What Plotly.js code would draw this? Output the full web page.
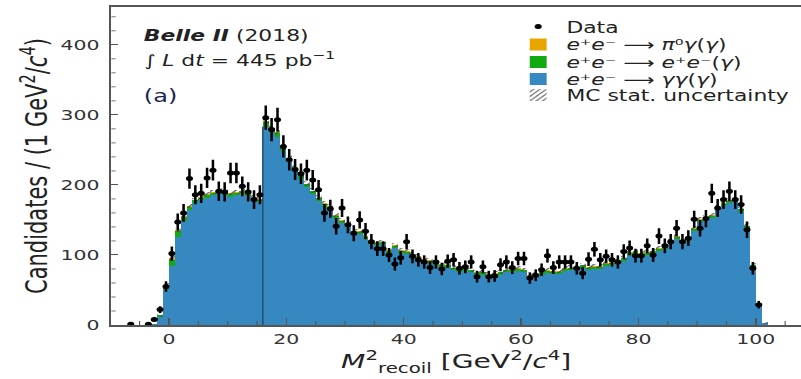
<!DOCTYPE html>
<html>
<head>
<meta charset="utf-8">
<script src="https://cdn.plot.ly/plotly-3.0.1.min.js"></script>
<style>
html,body{margin:0;padding:0;background:#fff;}
#wrap{width:801px;height:379px;overflow:hidden;position:relative;}
#chart{width:568px;height:379px;transform:scaleX(1.41021);transform-origin:0 0;}
</style>
</head>
<body>
<div id="wrap"><div id="chart"></div></div>
<script>
// Histogram binning: 1 GeV^2/c^4 bins, first bin starts at -10
const binStart = -10;
// MC components per bin (bins -10 .. 102)
const blueGG = [0,0,0,0,0,0,0,1,12,51,
  84,125,148,164,174,178,182,185,188,186,
  183,185,187,184,178,175,283,274,269,249,
  233,220,209,197,187,177,169,165,152,145,
  140,130,130,123,115,114,115,103,110,103,
  101,97,94,90,89,86,83,82,78,76,
  77,75,71,72,69,70,72,75,76,77,
  75,67,68,72,74,73,73,77,78,78,
  82,79,80,80,84,86,87,92,100,102,
  99,100,102,106,109,116,123,116,120,134,
  147,150,153,164,170,174,175,162,138,82,
  27,3,0];
const greenEE = [0,0,0,0,0,0,0,0,2,5,
  9,9,6,5,4,4,4,4,4,4,
  4,4,4,4,4,4,7,6,5,4,
  4,4,4,4,4,4,4,4,4,4,
  4,3,3,3,3,3,3,3,3,3,
  3,3,3,3,3,3,3,3,3,3,
  3,3,3,3,3,3,3,3,3,3,
  3,3,3,3,3,3,3,3,3,3,
  3,3,3,3,3,3,3,3,3,3,
  3,3,3,3,3,3,3,3,3,3,
  3,3,3,3,3,3,3,3,3,3,
  3,0,0];
const orangePi0 = [0,0,0,0,0,0,0,0,0,1,
  2,2,1,1,1,1,1,1,1,1,
  1,1,1,1,1,1,1,1,1,1,
  1,1,1,1,1,1,1,1,1,1,
  1,1,1,1,1,1,1,1,1,1,
  1,1,1,1,1,1,1,1,1,1,
  1,1,1,1,1,1,1,1,1,1,
  1,1,1,1,1,1,1,1,1,1,
  1,1,1,1,1,1,1,1,1,1,
  1,1,1,1,1,1,1,1,1,1,
  1,1,1,1,1,1,1,1,1,1,
  0,0,0];
const mcStatErr = [0,0,0,0,0,0,0,1,2,3,
  3,3,3,3,3,3,3,3,3,3,
  3,3,3,3,3,3,4,4,4,4,
  4,4,4,4,4,3,3,3,3,3,
  3,3,3,3,3,3,3,3,3,3,
  3,3,3,3,3,3,3,3,3,3,
  3,3,3,3,3,3,3,3,3,3,
  3,3,3,3,3,3,3,3,3,3,
  3,3,3,3,3,3,3,3,3,3,
  3,3,3,3,3,3,3,3,3,3,
  3,3,3,3,3,3,3,3,3,3,
  2,1,0];
// Data points (bin centres and counts)
const dataX = [-6.5,-3.5,-2.5,-1.5,-0.5,0.5,1.5,2.5,3.5,4.5,
  5.5,6.5,7.5,8.5,9.5,10.5,11.5,12.5,13.5,14.5,
  15.5,16.5,17.5,18.5,19.5,20.5,21.5,22.5,23.5,24.5,
  25.5,26.5,27.5,28.5,29.5,30.5,31.5,32.5,33.5,34.5,
  35.5,36.5,37.5,38.5,39.5,40.5,41.5,42.5,43.5,44.5,
  45.5,46.5,47.5,48.5,49.5,50.5,51.5,52.5,53.5,54.5,
  55.5,56.5,57.5,58.5,59.5,60.5,61.5,62.5,63.5,64.5,
  65.5,66.5,67.5,68.5,69.5,70.5,71.5,72.5,73.5,74.5,
  75.5,76.5,77.5,78.5,79.5,80.5,81.5,82.5,83.5,84.5,
  85.5,86.5,87.5,88.5,89.5,90.5,91.5,92.5,93.5,94.5,
  95.5,96.5,97.5,98.5,99.5,100.5];
const dataY = [1,1,8,22,55,102,147,160,209,186,
  188,210,221,191,190,217,217,198,190,179,
  186,296,279,293,255,236,222,216,221,207,
  193,160,166,141,167,143,131,150,134,119,
  109,109,100,87,96,119,98,93,90,82,
  90,80,91,93,81,83,90,69,83,69,
  70,86,90,82,95,95,67,71,79,99,
  82,90,90,90,81,74,94,108,93,98,
  93,90,105,110,99,99,113,100,127,113,
  119,138,119,124,151,138,152,188,167,179,
  191,179,172,136,81,29];

// ---- build traces ----
const centers = blueGG.map((_, i) => binStart + 0.5 + i);
const cumGreen = blueGG.map((b, i) => b + greenEE[i]);
const cumTotal = cumGreen.map((g, i) => g + orangePi0[i]);
const errBase = cumTotal.map((t, i) => t - mcStatErr[i]);
const errHeight = mcStatErr.map(e => 2 * e);
const jumpIdx = 26; // bin starting at 16
const edgeX = binStart + jumpIdx;

const FONT = 'DejaVu Sans, Verdana, sans-serif';
const traces = [
  {type: 'bar', x: centers, y: cumTotal, width: 1, name: '<i>e</i>⁺<i>e</i>⁻ ⟶ <i>π</i>⁰<i>γ</i>(<i>γ</i>)',
   marker: {color: '#E8A600', line: {width: 0}}, legend: 'legend2', hoverinfo: 'skip'},
  {type: 'bar', x: centers, y: cumGreen, width: 1, name: '<i>e</i>⁺<i>e</i>⁻ ⟶ <i>e</i>⁺<i>e</i>⁻(<i>γ</i>)',
   marker: {color: '#11AA11', line: {width: 0}}, legend: 'legend3', hoverinfo: 'skip'},
  {type: 'bar', x: centers, y: blueGG, width: 1, name: '<i>e</i>⁺<i>e</i>⁻ ⟶ <i>γγ</i>(<i>γ</i>)',
   marker: {color: '#3589C0', line: {width: 0}}, legend: 'legend4', hoverinfo: 'skip'},
  {type: 'bar', x: centers, y: errHeight, base: errBase, width: 1, name: 'MC stat. uncertainty',
   marker: {color: 'rgba(0,0,0,0)', line: {width: 0}, pattern: {shape: '/', fgcolor: '#444', bgcolor: 'rgba(0,0,0,0)', size: 4, solidity: 0.25}},
   legend: 'legend5', hoverinfo: 'skip'},
  {type: 'scatter', mode: 'lines', x: [edgeX, edgeX], y: [0, blueGG[jumpIdx]], line: {color: '#24506f', width: 1.1},
   showlegend: false, hoverinfo: 'skip'},
  {type: 'scatter', mode: 'markers', x: dataX, y: dataY, name: 'Data',
   marker: {color: '#000', size: 5},
   error_y: {type: 'data', array: dataY.map(v => Math.sqrt(v)), color: '#000', thickness: 1.8, width: 0},
   error_x: {type: 'constant', value: 0.45, color: '#000', thickness: 2, width: 0},
   legend: 'legend', hoverinfo: 'skip'}
];

function legendAt(yPaper) {
  return {x: 0.578, y: yPaper, xanchor: 'left', yanchor: 'middle', bgcolor: 'rgba(0,0,0,0)',
          font: {family: FONT, size: 15.5, color: '#222'}, itemwidth: 30, tracegroupgap: 0};
}

const layout = {
  width: 568, height: 379,
  margin: {l: 78.7, r: 0, t: 7, b: 54},
  paper_bgcolor: '#fff', plot_bgcolor: '#fff',
  barmode: 'overlay', bargap: 0,
  font: {family: FONT, color: '#333'},
  showlegend: true,
  legend: legendAt(0.937),
  legend2: legendAt(0.881),
  legend3: legendAt(0.826),
  legend4: legendAt(0.772),
  legend5: legendAt(0.722),
  xaxis: {range: [-9.8, 107.7], tick0: 0, dtick: 20, ticks: 'inside', ticklen: 7, tickwidth: 1, tickcolor: '#555',
          minor: {dtick: 5, tick0: 0, ticks: 'inside', ticklen: 4, tickcolor: '#555', tickwidth: 0.8},
          showgrid: false, zeroline: false, showline: true, linecolor: '#555', linewidth: 1.6, mirror: true,
          tickfont: {family: FONT, size: 14.5, color: '#333'},
          title: {text: '<i>M</i><sup>2</sup><sub>recoil</sub> [GeV<sup>2</sup>/<i>c</i><sup>4</sup>]', font: {family: FONT, size: 20, color: '#222'}, standoff: 4}},
  yaxis: {range: [0, 454], tick0: 0, dtick: 100, ticks: 'inside', ticklen: 5, tickwidth: 1, tickcolor: '#555',
          minor: {dtick: 20, ticks: 'inside', ticklen: 3, tickcolor: '#555', tickwidth: 0.8},
          showgrid: false, zeroline: false, showline: true, linecolor: '#555', linewidth: 1.5, mirror: true,
          ticklabelstandoff: 4,
          tickfont: {family: FONT, size: 14.5, color: '#333'},
          title: {text: 'Candidates / (1 GeV<sup>2</sup>/<i>c</i><sup>4</sup>)', font: {family: FONT, size: 21, color: '#222'}, standoff: 3}},
  annotations: [
    {xref: 'paper', yref: 'paper', x: 0.042, y: 0.91, xanchor: 'left', yanchor: 'middle', showarrow: false,
     text: '<b><i>Belle II</i></b> (2018)', font: {family: FONT, size: 15.5, color: '#222'}},
    {xref: 'paper', yref: 'paper', x: 0.042, y: 0.835, xanchor: 'left', yanchor: 'middle', showarrow: false,
     text: '∫ <i>L</i> d<i>t</i> = 445 pb<sup>−1</sup>', font: {family: FONT, size: 15.5, color: '#222'}},
    {xref: 'paper', yref: 'paper', x: 0.042, y: 0.72, xanchor: 'left', yanchor: 'middle', showarrow: false,
     text: '(a)', font: {family: FONT, size: 17, color: '#1b2550'}}
  ]
};

Plotly.newPlot('chart', traces, layout, {displayModeBar: false, staticPlot: true});
</script>
</body>
</html>
